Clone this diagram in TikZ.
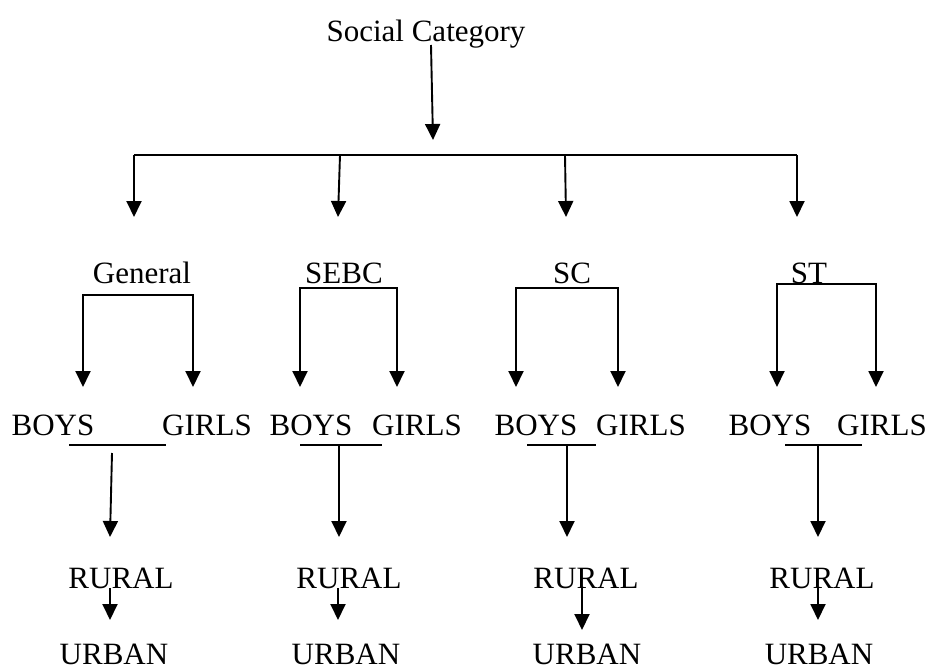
\documentclass[tikz,border=0pt]{standalone}
\usepackage{fontspec}
\setmainfont{Liberation Serif}
\usetikzlibrary{arrows.meta}

\begin{document}
\begin{tikzpicture}[x=1pt, y=-1pt, line width=1.9pt,
  lbl/.style={anchor=base, inner sep=0pt, font=\fontsize{31}{37}\selectfont},
  arr/.style={-{Triangle[width=15pt,length=16pt]}},
  twoarr/.style={{Triangle[width=15pt,length=16pt]}-{Triangle[width=15pt,length=16pt]}}]
\useasboundingbox (0,0) rectangle (929,666);

% top
\node [lbl] (soc) at (426,42) {Social Category};
\coordinate (hub) at (433,140);
\draw [arr] ([xshift=5pt,yshift=-3pt]soc.base) -- (hub);
\coordinate (bar1) at (134,155);
\coordinate (bar2) at (340,155);
\coordinate (bar3) at (565,155);
\coordinate (bar4) at (797,155);
\draw (bar1) -- (bar4);
\draw [arr] (bar1) -- (134,217);
\draw [arr] (bar2) -- (338,217);
\draw [arr] (bar3) -- (566,217);
\draw [arr] (bar4) -- (797,217);

% categories
\node [lbl] (gen) at (142,283) {General};
\node [lbl] (sebc) at (344,283) {SEBC};
\node [lbl] (sc) at (572,283) {SC};
\node [lbl] (st) at (809,283) {ST};
\draw [twoarr] (83,387) -- (83,295) -- (193,295) -- (193,387);
\draw [twoarr] (300,387) -- (300,288) -- (397,288) -- (397,387);
\draw [twoarr] (516,387) -- (516,288) -- (618,288) -- (618,387);
\draw [twoarr] (777,387) -- (777,284) -- (876,284) -- (876,387);

% boys and girls
\node [lbl] (genB) at (53,435) {BOYS};
\node [lbl] (genG) at (207,435) {GIRLS};
\node [lbl] (sebcB) at (311,435) {BOYS};
\node [lbl] (sebcG) at (417,435) {GIRLS};
\node [lbl] (scB) at (536,435) {BOYS};
\node [lbl] (scG) at (641,435) {GIRLS};
\node [lbl] (stB) at (770,435) {BOYS};
\node [lbl] (stG) at (882,435) {GIRLS};
\draw (69,445) -- (166,445);
\draw (300,445) -- (382,445);
\draw (527,445) -- (596,445);
\draw (785,445) -- (862,445);
\draw [arr] (112,453) -- (110,537);
\draw [arr] (339,445) -- (339,537);
\draw [arr] (567,445) -- (567,537);
\draw [arr] (818,445) -- (818,537);

% rural and urban
\node [lbl] (genR) at (121,588) {RURAL};
\node [lbl] (sebcR) at (349,588) {RURAL};
\node [lbl] (scR) at (586,588) {RURAL};
\node [lbl] (stR) at (822,588) {RURAL};
\node [lbl] (genU) at (114,664) {URBAN};
\node [lbl] (sebcU) at (346,664) {URBAN};
\node [lbl] (scU) at (587,664) {URBAN};
\node [lbl] (stU) at (819,664) {URBAN};
\draw [arr] (110,588) -- (110,620);
\draw [arr] (338,588) -- (338,620);
\draw [arr] (582,588) -- (582,630);
\draw [arr] (818,588) -- (818,620);
\end{tikzpicture}
\end{document}
